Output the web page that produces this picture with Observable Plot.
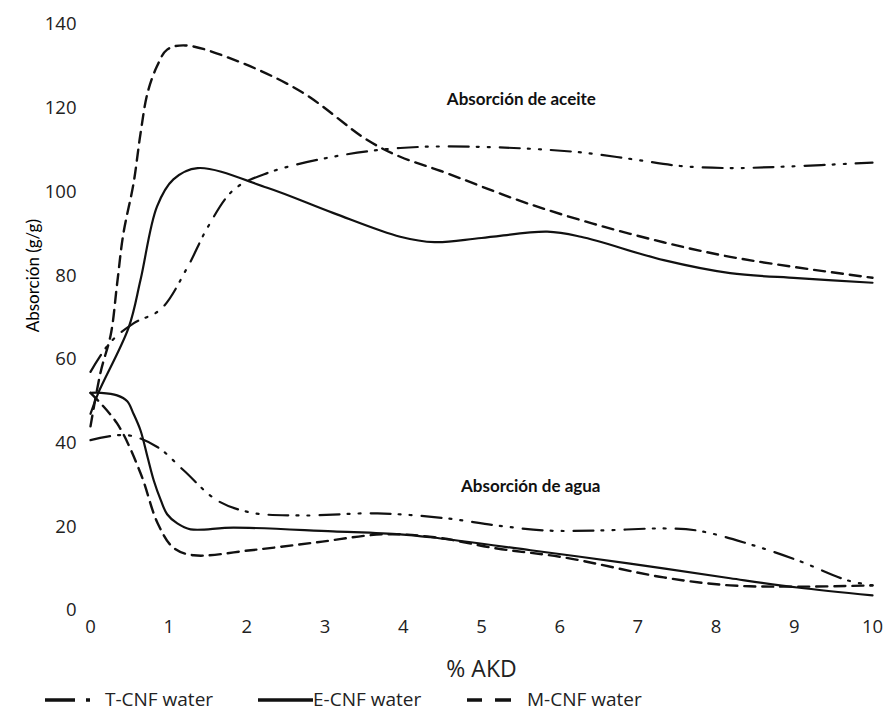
<!DOCTYPE html>
<html>
<head>
<meta charset="utf-8">
<script src="https://cdn.jsdelivr.net/npm/d3@7"></script>
<script src="https://cdn.jsdelivr.net/npm/@observablehq/plot@0.6"></script>
<style>
  html, body { margin: 0; padding: 0; background: #fff; }
  #wrap { position: relative; width: 887px; height: 711px; }
  #legend { position: absolute; left: 0; top: 689px; height: 22px; width: 887px;
    font-family: "Open Sans", sans-serif; font-size: 19px; color: #222; }
  #legend svg { position: absolute; top: 5px; display: block; }
  #legend span { position: absolute; top: -2px; line-height: 24px; white-space: nowrap; }
</style>
</head>
<body>
<div id="wrap"><div id="chart"></div><div id="legend"></div></div>
<script>
// % AKD ticks and absorption ticks
const xTicks = [0, 1, 2, 3, 4, 5, 6, 7, 8, 9, 10];
const yTicks = [0, 20, 40, 60, 80, 100, 120, 140];

// Oil absorption (g/g) vs % AKD
const tOilX = [0, 0.25, 0.55, 0.9, 1.24, 1.5, 1.83, 2.26, 3.1, 3.96, 4.9, 6.18, 6.9, 7.54, 8.18, 8.82, 10];
const tOilY = [57, 64, 68.6, 72, 82, 91.6, 100.5, 104.5, 108.4, 110.5, 110.8, 109.6, 107.9, 106.2, 105.7, 106, 107];
const eOilX = [0, 0.1, 0.49, 0.64, 0.85, 1.06, 1.37, 2.26, 3.1, 3.96, 4.4, 5.0, 5.84, 6.27, 7.33, 8.18, 9.04, 10];
const eOilY = [47, 52, 67.7, 79, 96.5, 103, 105.7, 101, 95, 89.3, 88, 89, 90.5, 89.3, 83.7, 80.6, 79.4, 78.3];
const mOilX = [0, 0.13, 0.26, 0.34, 0.42, 0.55, 0.64, 0.73, 0.85, 0.98, 1.21, 1.83, 2.69, 3.54, 3.96, 4.48, 5.63, 6.9, 8.18, 10];
const mOilY = [44, 57, 66, 78, 90, 102, 114, 123.7, 130, 134, 135, 131.6, 124, 112.4, 108.4, 105, 97, 90, 84.5, 79.5];

// Water absorption (g/g) vs % AKD
const tWatX = [0, 0.47, 0.86, 1.19, 1.62, 2.05, 2.69, 3.67, 4.56, 5.2, 5.84, 6.48, 7.33, 7.76, 8.4, 9.04, 9.68, 10];
const tWatY = [40.7, 41.9, 39, 33.5, 26.3, 23.4, 22.7, 23.2, 22, 20.3, 19.1, 19.1, 19.6, 19.1, 16, 12, 7.2, 6];
const eWatX = [0, 0.13, 0.34, 0.47, 0.55, 0.64, 0.73, 0.81, 0.9, 0.98, 1.11, 1.28, 1.83, 3.1, 3.96, 4.35, 5.63, 6.9, 8.18, 9.04, 10];
const eWatY = [52, 52, 51.4, 50, 47, 43, 36.6, 31, 26.3, 23, 20.8, 19.4, 19.8, 18.9, 18.2, 17.5, 14.4, 11.2, 7.7, 5.5, 3.6];
const mWatX = [0, 0.34, 0.64, 0.86, 1.06, 1.32, 2.05, 2.9, 3.75, 4.4, 5.2, 6.05, 7.33, 8.18, 9.04, 10];
const mWatY = [52, 44.7, 32.8, 20.8, 15, 13.2, 14.4, 16.3, 18.2, 17.5, 14.8, 12.7, 7.9, 6.0, 5.7, 6];

const seriesNames = ["T-CNF water", "E-CNF water", "M-CNF water"];
const annotations = [
  {text: "Absorción de aceite", x: 5.51, y: 122},
  {text: "Absorción de agua", x: 5.63, y: 29.7}
];
const xTitle = "% AKD";
const yTitle = "Absorción (g/g)";

// line style per series
const dash = {
  "T-CNF water": "20,8,2,9,2,10",
  "E-CNF water": null,
  "M-CNF water": "11,7"
};
const widths = {"T-CNF water": 2.2, "E-CNF water": 2.2, "M-CNF water": 2.4};

const zip = (xs, ys, series, kind) => xs.map((x, i) => ({x, y: ys[i], series, kind}));
const curves = [
  zip(tOilX, tOilY, "T-CNF water", "oil"),
  zip(eOilX, eOilY, "E-CNF water", "oil"),
  zip(mOilX, mOilY, "M-CNF water", "oil"),
  zip(tWatX, tWatY, "T-CNF water", "water"),
  zip(eWatX, eWatY, "E-CNF water", "water"),
  zip(mWatX, mWatY, "M-CNF water", "water")
];

const lineMarks = curves.map(rows => {
  const s = rows[0].series;
  const opts = {x: "x", y: "y", curve: "catmull-rom", stroke: "#111", strokeWidth: widths[s]};
  if (dash[s]) opts.strokeDasharray = dash[s];
  return Plot.line(rows, opts);
});

const chart = Plot.plot({
  width: 887,
  height: 711,
  marginLeft: 90,
  marginRight: 15,
  marginTop: 24,
  marginBottom: 101,
  style: {fontFamily: "'Open Sans', sans-serif", fontSize: "18.5px", color: "#222", background: "#fff"},
  x: {domain: [0, 10], ticks: xTicks, tickSize: 0, tickPadding: 9, label: null},
  y: {domain: [0, 140], ticks: yTicks, tickSize: 0, tickPadding: 14, label: null},
  marks: [
    ...lineMarks,
    Plot.text(annotations, {x: "x", y: "y", text: "text", fontFamily: "Lato, sans-serif",
      fontWeight: "bold", fontSize: 17, fill: "#111"}),
    Plot.text([{t: xTitle, x: 5}], {x: "x", text: "t", frameAnchor: "bottom", dy: 59,
      lineAnchor: "middle", fontSize: 23, fill: "#222"}),
    Plot.text([{t: yTitle, y: 80}], {y: "y", text: "t", frameAnchor: "left", dx: -57,
      textAnchor: "middle", rotate: -90, fontFamily: "Lato, sans-serif", fontSize: 17, fill: "#000"})
  ]
});
document.getElementById("chart").appendChild(chart);

// legend: line sample plus label for each series
const legendItems = [
  {name: seriesNames[0], sx: 45, sw: 46, dash: "30,11,4,20", tx: 105},
  {name: seriesNames[1], sx: 258, sw: 55, dash: null, tx: 313},
  {name: seriesNames[2], sx: 467, sw: 44, dash: "15,13,16,20", tx: 527}
];
const legend = document.getElementById("legend");
const ns = "http://www.w3.org/2000/svg";
legendItems.forEach(p => {
  const sw = document.createElementNS(ns, "svg");
  sw.setAttribute("width", p.sw);
  sw.setAttribute("height", 12);
  sw.style.left = p.sx + "px";
  const ln = document.createElementNS(ns, "line");
  ln.setAttribute("x1", 0); ln.setAttribute("x2", p.sw);
  ln.setAttribute("y1", 6); ln.setAttribute("y2", 6);
  ln.setAttribute("stroke", "#111");
  ln.setAttribute("stroke-width", 3.5);
  if (p.dash) ln.setAttribute("stroke-dasharray", p.dash);
  sw.appendChild(ln);
  legend.appendChild(sw);
  const label = document.createElement("span");
  label.textContent = p.name;
  label.style.left = p.tx + "px";
  legend.appendChild(label);
});
</script>
</body>
</html>
